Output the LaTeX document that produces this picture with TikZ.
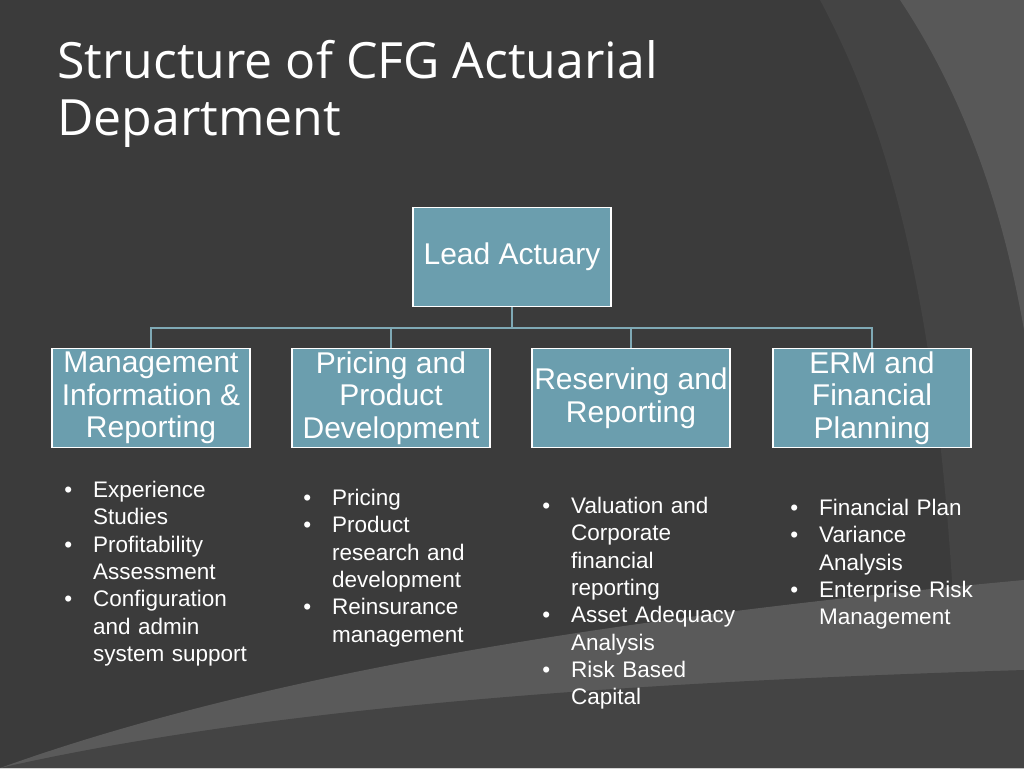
\documentclass[tikz,border=0pt]{standalone}
\usepackage{fontspec}
\setmainfont{Liberation Sans}
\newfontfamily\titlefont{Open Sans}
\usetikzlibrary{positioning}
\definecolor{bgdark}{HTML}{3B3B3B}
\definecolor{bgmid}{HTML}{444444}
\definecolor{bglight}{HTML}{5A5A5A}
\definecolor{boxfill}{HTML}{6B9EAE}
\definecolor{linecol}{HTML}{7FA9B5}
\tikzset{
  unit/.style={draw=white,line width=1.5pt,fill=boxfill,text=white,minimum width=198pt,
    minimum height=99pt,align=center,font=\fontsize{30}{32.5}\selectfont,inner sep=1pt},
  duties/.style={anchor=north west,text=white,text width=170pt,align=left,
    font=\fontsize{22.5}{27.3}\selectfont,inner sep=0pt},
  link/.style={draw=linecol,line width=1.5pt}
}
\newcommand{\dutylist}[1]{\setlength{\leftmargini}{31pt}\setlength{\labelsep}{21pt}%
  \begin{itemize}\setlength{\itemsep}{0pt}\setlength{\parskip}{0pt}\setlength{\topsep}{0pt}#1\end{itemize}}
\begin{document}
\begin{tikzpicture}[x=1pt,y=-1pt]
% background
\fill[bgdark] (0,0) rectangle (1024,768);
\fill[bgmid] (820,0) .. controls (900,150) and (950,350) .. (960,768) -- (1024,768) -- (1024,0) -- cycle;
\fill[bgdark!85!white] (900,0) .. controls (980,120) and (1010,250) .. (1024,330) -- (1024,0) -- cycle;
\fill[bglight] (0,768) .. controls (300,660) and (700,610) .. (1024,580) -- (1024,768) -- cycle;
\fill[bgmid] (0,768) .. controls (300,700) and (700,680) .. (1024,670) -- (1024,768) -- cycle;
\useasboundingbox (0,0) rectangle (1024,768);
% title
\node[anchor=north west,text=white,align=left,font=\titlefont\fontsize{50}{57}\selectfont,inner sep=0pt]
  (title) at (57,40) {Structure of CFG Actuarial\\Department};
% chart
\node[unit] (lead) at (512,257) {Lead Actuary};
\node[unit] (mgmt) at (151,398) {Management\\Information \&\\Reporting};
\node[unit] (pricing) at (391,398) {Pricing and\\Product\\Development};
\node[unit] (reserving) at (631,398) {Reserving and\\Reporting};
\node[unit] (erm) at (872,398) {ERM and\\Financial\\Planning};
\coordinate (bus) at (512,328);
\draw[link] (lead.south) -- (bus);
\foreach \u in {mgmt,pricing,reserving,erm}
  \draw[link] (bus) -| (\u.north);
% duties
\node[duties,text width=185pt] (mgmtlist) at (62,462) {\dutylist{\item Experience Studies \item Profitability Assessment \item Configuration and admin system support}};
\node[duties,text width=175pt] (pricinglist) at (301,470) {\dutylist{\item Pricing \item Product research and development \item Reinsurance management}};
\node[duties,text width=200pt] (reservinglist) at (540,478) {\dutylist{\item Valuation and Corporate financial reporting \item Asset Adequacy Analysis \item Risk Based Capital}};
\node[duties,text width=190pt] (ermlist) at (788,480) {\dutylist{\item Financial Plan \item Variance Analysis \item Enterprise Risk Management}};
\end{tikzpicture}
\end{document}
